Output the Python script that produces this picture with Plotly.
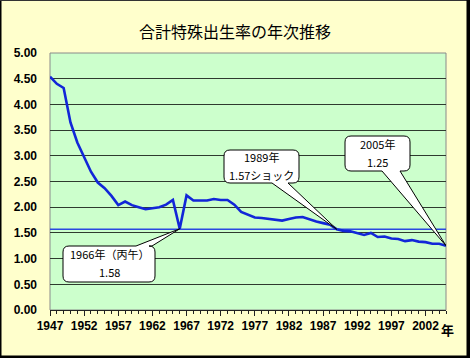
import plotly.graph_objects as go

# ---- data ----
years = list(range(1947, 2006))
tfr = [4.54, 4.40, 4.32, 3.65, 3.26, 2.98, 2.69, 2.48, 2.37, 2.22,
       2.04, 2.11, 2.04, 2.00, 1.96, 1.98, 2.00, 2.05, 2.14, 1.58,
       2.23, 2.13, 2.13, 2.13, 2.16, 2.14, 2.14, 2.05, 1.91, 1.85,
       1.80, 1.79, 1.77, 1.75, 1.74, 1.77, 1.80, 1.81, 1.76, 1.72,
       1.69, 1.66, 1.57, 1.54, 1.53, 1.50, 1.46, 1.50, 1.42, 1.43,
       1.39, 1.38, 1.34, 1.36, 1.33, 1.32, 1.29, 1.29, 1.25]
ref_level = 1.57
xtick_vals = list(range(1947, 2003, 5))
ytick_vals = [0, 0.5, 1.0, 1.5, 2.0, 2.5, 3.0, 3.5, 4.0, 4.5, 5.0]

callout_years = [1966, 1989, 2005]
callout_line1 = ["1966年（丙午）", "1989年", "2005年"]
callout_line2 = ["1.58", "1.57ショック", "1.25"]

# ---- layout geometry (pixels) ----
W, H = 470, 358
L, R, T, B = 50, 446, 53, 310
X0, X1 = 1947, 2005
Y0, Y1 = 0, 5


def dx(px):
    return X0 + (px - L) * (X1 - X0) / (R - L)


def dy(py):
    return Y0 + (B - py) * (Y1 - Y0) / (B - T)


def ppx(px):
    return (px - L) / (R - L)


def ppy(py):
    return (B - py) / (B - T)


def callout_path(box, side, base, tip, r=6):
    x0, y0, x1, y1 = box
    tx, ty = tip
    P = lambda px, py: f"{dx(px):.4f},{dy(py):.4f}"
    T_ = f"{tx:.4f},{ty:.4f}"
    s = f"M {P(x0 + r, y0)} "
    if side == "top":
        s += f"L {P(base[0], y0)} L {T_} L {P(base[1], y0)} "
    s += f"L {P(x1 - r, y0)} Q {P(x1, y0)} {P(x1, y0 + r)} "
    s += f"L {P(x1, y1 - r)} Q {P(x1, y1)} {P(x1 - r, y1)} "
    if side == "bottom":
        s += f"L {P(base[1], y1)} L {T_} L {P(base[0], y1)} "
    s += f"L {P(x0 + r, y1)} Q {P(x0, y1)} {P(x0, y1 - r)} "
    s += f"L {P(x0, y0 + r)} Q {P(x0, y0)} {P(x0 + r, y0)} Z"
    return s


fig = go.Figure()
fig.add_trace(go.Scatter(x=[years[0], years[-1]], y=[ref_level, ref_level],
                         mode="lines", line=dict(color="#2a48e0", width=1.5),
                         hoverinfo="skip", showlegend=False))
fig.add_trace(go.Scatter(x=years, y=tfr, mode="lines",
                         line=dict(color="#1226d8", width=2.6),
                         showlegend=False))

shapes = []
# figure border (dark frame)
shapes += [
    dict(type="rect", xref="paper", yref="paper", x0=ppx(0), x1=ppx(1.5), y0=ppy(H), y1=ppy(0),
         fillcolor="black", line=dict(width=0), layer="above"),
    dict(type="rect", xref="paper", yref="paper", x0=ppx(0), x1=ppx(W), y0=ppy(1), y1=ppy(0),
         fillcolor="#333", line=dict(width=0), layer="above"),
    dict(type="rect", xref="paper", yref="paper", x0=ppx(466.5), x1=ppx(W), y0=ppy(H), y1=ppy(0),
         fillcolor="black", line=dict(width=0), layer="above"),
    dict(type="rect", xref="paper", yref="paper", x0=ppx(0), x1=ppx(W), y0=ppy(H), y1=ppy(355.5),
         fillcolor="black", line=dict(width=0), layer="above"),
]
# plot area border
shapes.append(dict(type="rect", xref="paper", yref="paper", x0=0, x1=1, y0=0, y1=1,
                   line=dict(color="#8a8a8a", width=1), layer="below"))

boxes = [(63, 246, 155, 282), (224, 150, 299, 183), (345, 136, 410, 171)]
sides = ["top", "bottom", "bottom"]
bases = [(136, 152), (272, 288), (382, 400)]
tip_vals = [tfr[years.index(callout_years[0])], ref_level, tfr[years.index(callout_years[2])]]

annotations = []
cfont = dict(family="Noto Sans CJK JP", size=11, color="black")
for box, side, base, cy, tv, t1, t2 in zip(boxes, sides, bases, callout_years, tip_vals,
                                           callout_line1, callout_line2):
    shapes.append(dict(type="path", xref="x", yref="y",
                       path=callout_path(box, side, base, (cy, tv)),
                       fillcolor="white", line=dict(color="black", width=1), layer="above"))
    cx = (box[0] + box[2]) / 2
    cyp = (box[1] + box[3]) / 2
    annotations.append(dict(x=dx(cx), y=dy(cyp - 1), xref="x", yref="y", text=t1,
                            showarrow=False, yanchor="bottom", borderpad=0, font=cfont))
    annotations.append(dict(x=dx(cx), y=dy(cyp - 1), xref="x", yref="y", text=t2,
                            showarrow=False, yanchor="top", borderpad=0, font=cfont))

annotations.append(dict(x=ppx(447), y=ppy(329), xref="paper", yref="paper", text="年",
                        showarrow=False, xanchor="center", yanchor="middle",
                        font=dict(family="Noto Sans CJK JP", size=13, color="black", weight="bold")))

fig.update_layout(
    width=W, height=H,
    margin=dict(l=L, r=W - R, t=T, b=H - B),
    paper_bgcolor="#FFFFCC",
    plot_bgcolor="#CCFFCC",
    title=dict(text="合計特殊出生率の年次推移", x=0.5, xanchor="center",
               y=1 - 32 / H, yanchor="middle", yref="container",
               font=dict(family="Noto Sans CJK JP", size=16, color="black")),
    shapes=shapes,
    annotations=annotations,
    showlegend=False,
)
fig.update_xaxes(range=[X0, X1], tickvals=xtick_vals, ticks="outside", ticklen=5,
                 tickcolor="#222", tickwidth=1, showgrid=False, zeroline=False,
                 showline=True, linecolor="#222", linewidth=1,
                 tickfont=dict(family="Liberation Sans", size=12, color="black", weight="bold"),
                 minor=dict(dtick=1, tick0=1947, ticks="outside", ticklen=3, tickcolor="#222", showgrid=False))
fig.update_yaxes(range=[Y0, Y1], tickvals=ytick_vals, tickformat=".2f", ticks="",
                 showgrid=True, gridcolor="#2e3a2e", gridwidth=1, zeroline=False,
                 ticklabelstandoff=12,
                 tickfont=dict(family="Liberation Sans", size=12, color="black", weight="bold"))

fig.write_html("out.html", config={"displayModeBar": False},
               post_script="document.body.style.margin='0';document.body.style.overflow='hidden';")
